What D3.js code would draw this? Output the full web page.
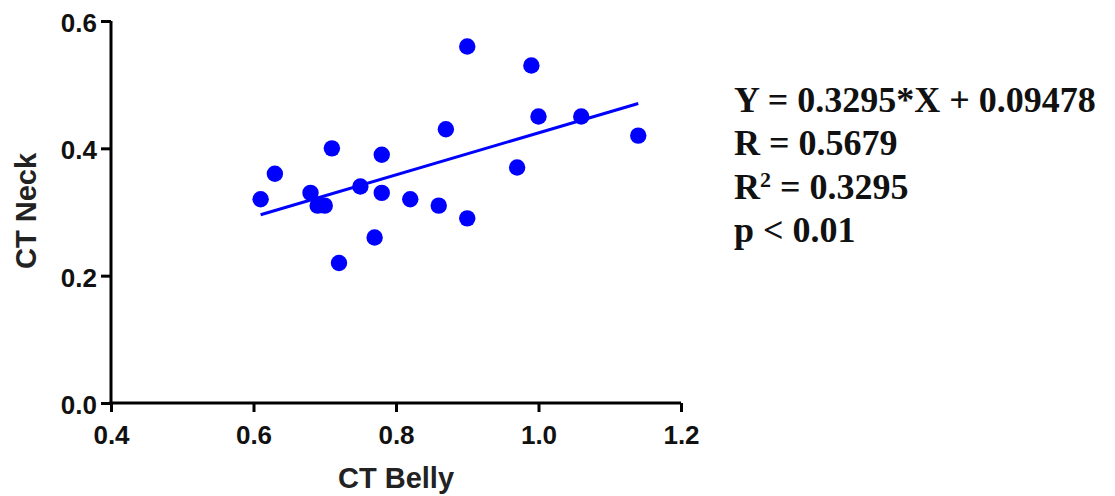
<!DOCTYPE html>
<html>
<head>
<meta charset="utf-8">
<script src="https://cdn.jsdelivr.net/npm/d3@7"></script>
<style>
  body { margin: 0; background: #fff; }
  svg { display: block; }
</style>
</head>
<body>
<svg id="chart"></svg>
<script>
// data
const belly = [0.61, 0.63, 0.68, 0.69, 0.70, 0.71, 0.72, 0.75, 0.77, 0.78, 0.78,
               0.82, 0.86, 0.87, 0.90, 0.90, 0.97, 0.99, 1.00, 1.06, 1.14];
const neck  = [0.32, 0.36, 0.33, 0.31, 0.31, 0.40, 0.22, 0.34, 0.26, 0.39, 0.33,
               0.32, 0.31, 0.43, 0.56, 0.29, 0.37, 0.53, 0.45, 0.45, 0.42];
const slope = 0.3295;
const intercept = 0.09478;
const xTicks = [0.4, 0.6, 0.8, 1.0, 1.2];
const yTicks = [0.0, 0.2, 0.4, 0.6];
const statLines = ['Y = 0.3295*X + 0.09478', 'R = 0.5679', 'R2', 'p < 0.01'];

const width = 1115, height = 496;
const margin = {top: 21, right: 434, bottom: 93, left: 111};

const svg = d3.select('#chart')
    .attr('width', width)
    .attr('height', height);

const x = d3.scaleLinear()
    .domain([0.4, 1.2])
    .range([margin.left, width - margin.right]);

const y = d3.scaleLinear()
    .domain([0, 0.6])
    .range([height - margin.bottom, margin.top]);

const blue = '#0000ff';
const sans = 'Liberation Sans, Arial, sans-serif';

// regression line over the data range
const xs = d3.extent(belly);
svg.append('line')
    .attr('x1', x(xs[0]))
    .attr('y1', y(slope * xs[0] + intercept))
    .attr('x2', x(xs[1]))
    .attr('y2', y(slope * xs[1] + intercept))
    .attr('stroke', blue)
    .attr('stroke-width', 3);

svg.append('g')
    .selectAll('circle')
    .data(belly.map((b, i) => ({b: b, n: neck[i]})))
    .enter()
    .append('circle')
    .attr('cx', d => x(d.b))
    .attr('cy', d => y(d.n))
    .attr('r', 8.2)
    .attr('fill', blue);

// axes
const xAxis = svg.append('g')
    .attr('transform', `translate(0, ${height - margin.bottom})`)
    .call(d3.axisBottom(x).tickValues(xTicks).tickFormat(d3.format('.1f'))
        .tickSize(9).tickSizeOuter(0).tickPadding(14));

const yAxis = svg.append('g')
    .attr('transform', `translate(${margin.left}, 0)`)
    .call(d3.axisLeft(y).tickValues(yTicks).tickFormat(d3.format('.1f'))
        .tickSize(10).tickSizeOuter(0).tickPadding(4));

[xAxis, yAxis].forEach(ax => {
    ax.select('.domain').attr('stroke', '#000').attr('stroke-width', 3);
    ax.selectAll('.tick line').attr('stroke', '#000').attr('stroke-width', 3);
    ax.selectAll('.tick text')
        .attr('fill', '#111')
        .style('font-family', sans)
        .style('font-weight', 'bold')
        .style('font-size', '26px');
});
yAxis.selectAll('.tick text').attr('dy', '0.4em');
// extend domain lines to close the corner
yAxis.select('.domain').attr('d', `M0,${y(0.6)}V${y(0) + 1.5}`);
xAxis.select('.domain').attr('d', `M${x(0.4) - 1.5},0H${x(1.2)}`);

// axis titles
svg.append('text')
    .attr('x', x(0.8))
    .attr('y', 488)
    .attr('text-anchor', 'middle')
    .style('font-family', sans)
    .style('font-weight', 'bold')
    .style('font-size', '29px')
    .attr('fill', '#222')
    .text('CT Belly');

svg.append('text')
    .attr('transform', `translate(36, 211) rotate(-90)`)
    .attr('text-anchor', 'middle')
    .style('font-family', sans)
    .style('font-weight', 'bold')
    .style('font-size', '29px')
    .attr('fill', '#222')
    .text('CT Neck');

// stats block
const stats = svg.append('text')
    .style('font-family', 'Liberation Serif, Times New Roman, serif')
    .style('font-weight', 'bold')
    .style('font-size', '36px')
    .attr('fill', '#111');

statLines.forEach((s, i) => {
    const t = stats.append('tspan')
        .attr('x', 734)
        .attr('y', 112 + i * 43.3);
    if (s === 'R2') {
        t.text('R');
        t.append('tspan').text('2').attr('dy', -12).style('font-size', '22px');
        t.append('tspan').text(' = 0.3295').attr('dy', 12);
    } else {
        t.text(s);
    }
});
</script>
</body>
</html>
